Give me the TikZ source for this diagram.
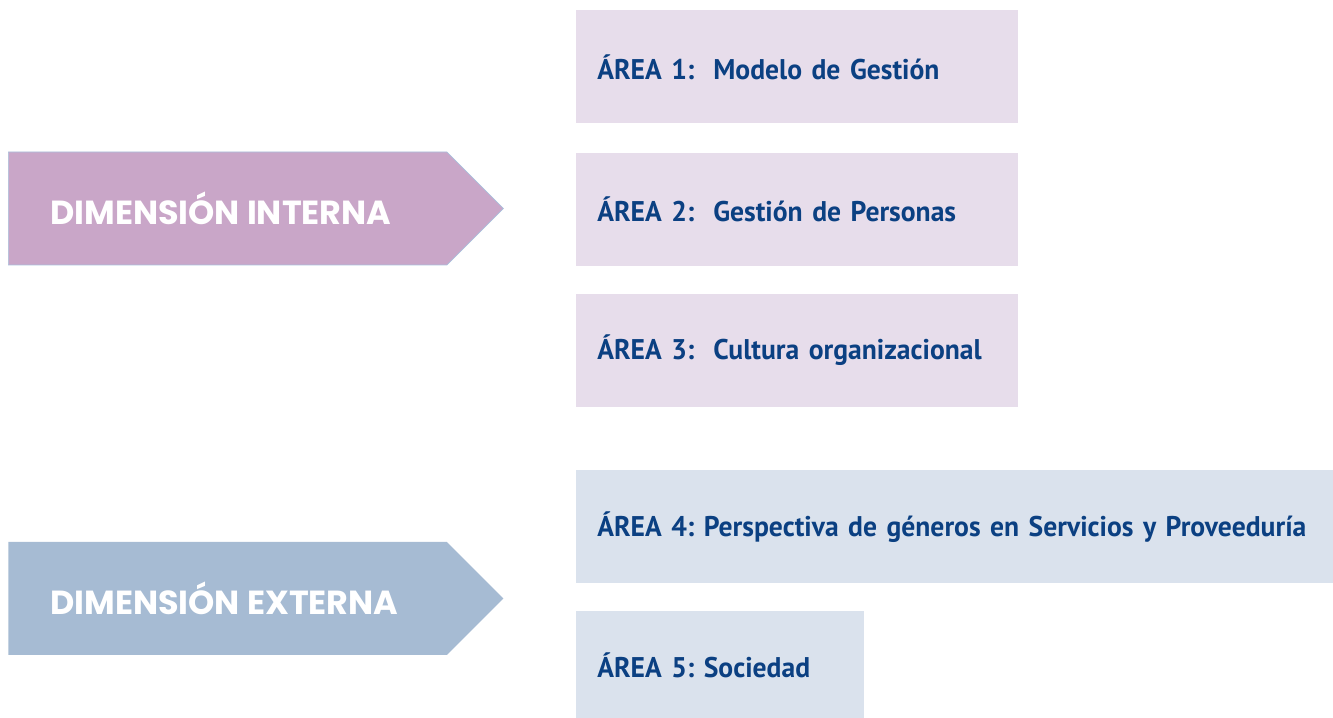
\documentclass[tikz,border=0pt]{standalone}
\usepackage{fontspec}
\usepackage{tikz}
\usetikzlibrary{shapes.symbols,positioning}
\frenchspacing
\newfontfamily\dimfont{Poppins}
\newfontfamily\areafont{PT Sans}[WordSpace=0.6,FakeStretch=0.97]
\definecolor{dimintfill}{HTML}{C9A6C8}
\definecolor{dimextfill}{HTML}{A6BBD3}
\definecolor{dimedge}{HTML}{A9C0DC}
\definecolor{areaintfill}{HTML}{E7DDEB}
\definecolor{areaextfill}{HTML}{DAE2ED}
\definecolor{areablue}{HTML}{0B4082}
\tikzstyle{dimbox}=[signal, signal to=east, signal from=nowhere, signal pointer angle=90,
        minimum width=9.9cm, minimum height=2.26cm, inner sep=0pt]
\tikzstyle{dimtext}=[anchor=west, inner sep=0pt, text=white, font=\dimfont\bfseries\fontsize{19}{22}\selectfont]
\tikzstyle{area}=[rectangle, anchor=north west, inner xsep=0.42cm, inner ysep=0pt,
        minimum height=2.26cm, text=areablue, font=\areafont\bfseries\fontsize{16.2}{19}\selectfont]

\begin{document}
\begin{tikzpicture}[node distance=0.56cm]
\useasboundingbox (0,0) rectangle (26.66,-14.36);
% dimensiones
\node [dimbox, fill=dimintfill, draw=dimedge, line width=0.4pt, anchor=west] (dint) at (0.16,-4.17) {};
\node [dimtext] (dinttxt) at ([xshift=0.84cm]dint.west) {DIMENSIÓN INTERNA};
\node [dimbox, fill=dimextfill, anchor=west] (dext) at (0.16,-11.97) {};
\node [dimtext] (dexttxt) at ([xshift=0.84cm]dext.west) {DIMENSIÓN EXTERNA};
% areas
\node [area, fill=areaintfill, text width=8cm] (a1) at (11.52,-0.2) {ÁREA 1:\ \ Modelo de Gestión};
\node [area, fill=areaintfill, text width=8cm, below=0.58cm of a1.south west, anchor=north west] (a2) {ÁREA 2:\ \ Gestión de Personas};
\node [area, fill=areaintfill, text width=8cm, below=0.54cm of a2.south west, anchor=north west] (a3) {ÁREA 3:\ \ Cultura organizacional};
\node [area, fill=areaextfill, text width=14.3cm] (a4) at (11.52,-9.4) {\mbox{ÁREA 4: Perspectiva de géneros en Servicios y Proveeduría}};
\node [area, fill=areaextfill, text width=4.92cm, minimum height=2.16cm, below=0.54cm of a4.south west, anchor=north west] (a5) {ÁREA 5: Sociedad};
\end{tikzpicture}
\end{document}
